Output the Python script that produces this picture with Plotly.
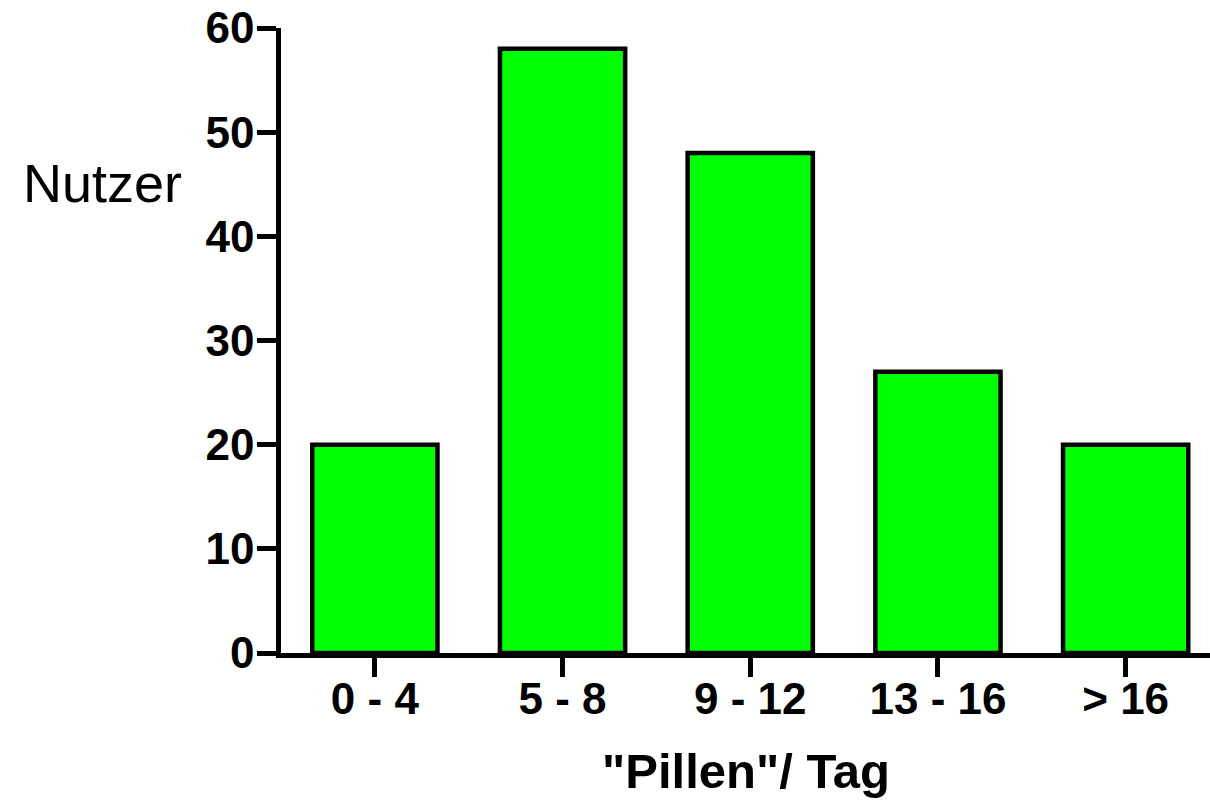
import plotly.graph_objects as go

categories = ["0 - 4", "5 - 8", "9 - 12", "13 - 16", "> 16"]
users = [20, 58, 48, 27, 20]
y_ticks = [0, 10, 20, 30, 40, 50, 60]

W, H = 1210, 801
L, R, T = 281, 0, 28
B = H - 653
pw = W - L - R
ph = H - T - B

FONT = "Liberation Sans, Arial, sans-serif"

fig = go.Figure(
    go.Bar(
        x=list(range(len(categories))),
        y=users,
        width=0.667,
        marker=dict(color="#00FF00", line=dict(color="black", width=4.5)),
    )
)

x_end = -0.5 + pw / 187.7

fig.update_layout(
    width=W,
    height=H,
    margin=dict(l=L, r=R, t=T, b=B, autoexpand=False),
    paper_bgcolor="white",
    plot_bgcolor="white",
    showlegend=False,
    font=dict(family=FONT, color="black"),
)

axis_style = dict(
    showline=True,
    linecolor="black",
    linewidth=4.5,
    ticks="outside",
    ticklen=19,
    tickwidth=4.5,
    tickcolor="black",
    tickfont=dict(family=FONT, size=44, weight="bold", color="black"),
    ticklabeloverflow="allow",
    automargin=False,
    showgrid=False,
    zeroline=False,
)

fig.update_xaxes(
    range=[-0.5, x_end],
    tickmode="array",
    tickvals=list(range(len(categories))),
    ticktext=categories,
    ticklabelstandoff=-16,
    **axis_style,
)

fig.update_yaxes(
    range=[0, 60],
    tickmode="array",
    tickvals=y_ticks,
    ticktext=[str(v) for v in y_ticks],
    ticklabelstandoff=-6,
    **axis_style,
)

fig.add_annotation(
    text="Nutzer",
    xref="paper", yref="paper",
    x=(102 - L) / pw, y=(653 - 183) / ph,
    xanchor="center", yanchor="middle",
    showarrow=False,
    font=dict(family=FONT, size=54, color="black"),
)

fig.add_annotation(
    text="\"Pillen\"/ Tag",
    xref="paper", yref="paper",
    x=(746 - L) / pw, y=(653 - 771) / ph,
    xanchor="center", yanchor="middle",
    showarrow=False,
    font=dict(family=FONT, size=49, weight="bold", color="black"),
)

fig.write_html(
    "out.html",
    config={"displayModeBar": False},
    post_script="document.body.style.margin='0';document.body.style.overflow='hidden';",
)
